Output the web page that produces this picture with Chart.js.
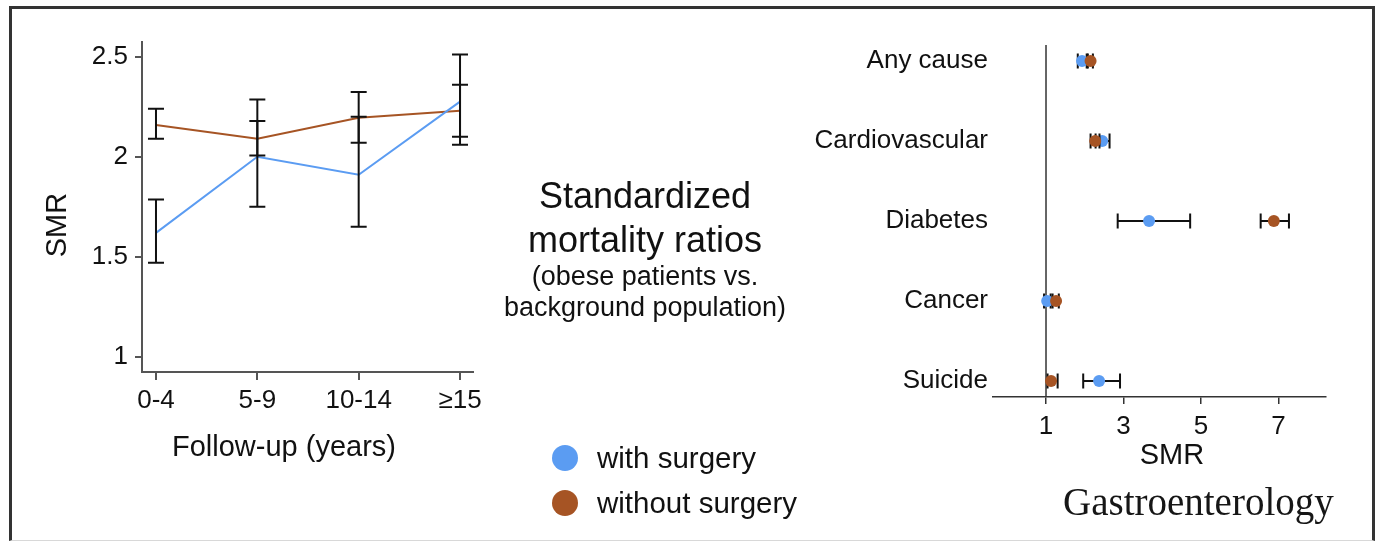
<!DOCTYPE html>
<html>
<head>
<meta charset="utf-8">
<script src="https://cdn.jsdelivr.net/npm/chart.js@4.4.1/dist/chart.umd.min.js"></script>
<style>
  html, body { margin:0; padding:0; background:#fff; }
  body { width:1375px; height:544px; position:relative; overflow:hidden; font-family:"Liberation Sans", Arial, sans-serif; color:#111; }
  .abs { position:absolute; white-space:nowrap; }
  #frame { position:absolute; left:9px; top:6px; width:1360px; height:531px; border:3px solid #333; border-bottom-color:#d8d8d8; border-bottom-width:1px; }
  .title1 { font-size:36px; line-height:40px; left:445px; width:400px; text-align:center; }
  .title2 { font-size:27px; line-height:32px; left:445px; width:400px; text-align:center; }
  .dot { position:absolute; width:26px; height:26px; border-radius:50%; }
  .leg { font-size:29.5px; line-height:34px; left:597px; }
  #journal { font-family:"Liberation Serif", "DejaVu Serif", serif; font-size:39px; line-height:38px; left:1063px; top:483px; color:#161616; }
</style>
</head>
<body>
<div id="frame"></div>
<canvas id="leftChart" class="abs" width="490" height="480" style="left:0;top:0"></canvas>
<canvas id="rightChart" class="abs" width="600" height="500" style="left:760px;top:0"></canvas>

<div class="abs title1" style="top:176px">Standardized</div>
<div class="abs title1" style="top:220px">mortality ratios</div>
<div class="abs title2" style="top:260px">(obese patients vs.</div>
<div class="abs title2" style="top:291px">background population)</div>

<div class="dot" style="left:552px;top:445px;background:#5b9cf2"></div>
<div class="abs leg" style="top:441px">with surgery</div>
<div class="dot" style="left:552px;top:490px;background:#a65424"></div>
<div class="abs leg" style="top:486px">without surgery</div>

<div id="journal" class="abs">Gastroenterology</div>

<script>
// ---------- Data: left panel (SMR by follow-up period) ----------
const periods = ['0-4', '5-9', '10-14', '≥15'];
const withSurgery      = [1.62, 2.00, 1.91, 2.275];
const withSurgeryLow   = [1.47, 1.75, 1.65, 2.06];
const withSurgeryHigh  = [1.786, 2.178, 2.20, 2.51];
const withoutSurgery     = [2.158, 2.09, 2.195, 2.23];
const withoutSurgeryLow  = [2.09, 2.006, 2.07, 2.10];
const withoutSurgeryHigh = [2.24, 2.286, 2.323, 2.36];
const leftYTicks = [1, 1.5, 2, 2.5];

// ---------- Data: right panel (SMR by cause of death) ----------
const causes = ['Any cause', 'Cardiovascular', 'Diabetes', 'Cancer', 'Suicide'];
const causeWith      = [1.93, 2.45, 3.66, 1.03, 2.37];
const causeWithLow   = [1.82, 2.28, 2.85, 0.95, 1.96];
const causeWithHigh  = [2.05, 2.64, 4.72, 1.12, 2.91];
const causeWithout     = [2.15, 2.27, 6.88, 1.26, 1.13];
const causeWithoutLow  = [2.08, 2.15, 6.54, 1.17, 1.04];
const causeWithoutHigh = [2.21, 2.38, 7.27, 1.33, 1.30];
const rightXTicks = [1, 3, 5, 7];
const referenceSMR = 1;

const BLUE = '#5b9cf2';
const BROWN = '#a65424';
const FONT = '"Liberation Sans", Arial, sans-serif';

const errorBars = {
  id: 'errorBars',
  drawOne(chart, ds, o) {
    if (!ds.errLow) return;
    const ctx = chart.ctx, xs = chart.scales.x, ys = chart.scales.y;
    ctx.save();
    ctx.strokeStyle = o.color; ctx.lineWidth = o.width; ctx.lineCap = 'butt';
    ds.data.forEach((p, i) => {
      ctx.beginPath();
      if (o.horizontal) {
        const y = ys.getPixelForValue(p.y);
        const a = xs.getPixelForValue(ds.errLow[i]), b = xs.getPixelForValue(ds.errHigh[i]);
        ctx.moveTo(a, y); ctx.lineTo(b, y);
        ctx.moveTo(a, y - o.cap); ctx.lineTo(a, y + o.cap);
        ctx.moveTo(b, y - o.cap); ctx.lineTo(b, y + o.cap);
      } else {
        const x = xs.getPixelForValue(p.x);
        const a = ys.getPixelForValue(ds.errLow[i]), b = ys.getPixelForValue(ds.errHigh[i]);
        ctx.moveTo(x, a); ctx.lineTo(x, b);
        ctx.moveTo(x - o.cap, a); ctx.lineTo(x + o.cap, a);
        ctx.moveTo(x - o.cap, b); ctx.lineTo(x + o.cap, b);
      }
      ctx.stroke();
    });
    ctx.restore();
  },
  beforeDatasetDraw(chart, args, o) {
    if (o.mode === 'before') this.drawOne(chart, chart.data.datasets[args.index], o);
  },
  afterDatasetsDraw(chart, args, o) {
    if (o.mode === 'after') chart.data.datasets.forEach(ds => this.drawOne(chart, ds, o));
  }
};

// axis titles drawn as canvas text
const caption = {
  id: 'caption',
  afterDraw(chart, args, o) {
    if (!o.items) return;
    const ctx = chart.ctx;
    o.items.forEach(it => {
      ctx.save();
      ctx.font = it.size + 'px ' + FONT;
      ctx.fillStyle = '#111';
      ctx.textAlign = 'center';
      ctx.textBaseline = 'middle';
      ctx.translate(it.x, it.y);
      if (it.rotate) ctx.rotate(-Math.PI / 2);
      ctx.fillText(it.text, 0, 0);
      ctx.restore();
    });
  }
};

const refLine = {
  id: 'refLine',
  beforeDatasetsDraw(chart, args, o) {
    if (o.value === undefined) return;
    const ctx = chart.ctx, xs = chart.scales.x, ca = chart.chartArea;
    const x = xs.getPixelForValue(o.value);
    ctx.save();
    ctx.strokeStyle = '#333'; ctx.lineWidth = 1.5;
    ctx.beginPath(); ctx.moveTo(x, ca.top); ctx.lineTo(x, ca.bottom); ctx.stroke();
    ctx.restore();
  }
};

// ---------- Left chart ----------
new Chart(document.getElementById('leftChart'), {
  type: 'line',
  data: {
    datasets: [
      { label: 'with surgery', data: withSurgery.map((v, i) => ({x: i, y: v})),
        errLow: withSurgeryLow, errHigh: withSurgeryHigh,
        borderColor: BLUE, borderWidth: 2, pointRadius: 0, tension: 0, fill: false },
      { label: 'without surgery', data: withoutSurgery.map((v, i) => ({x: i, y: v})),
        errLow: withoutSurgeryLow, errHigh: withoutSurgeryHigh,
        borderColor: BROWN, borderWidth: 2, pointRadius: 0, tension: 0, fill: false }
    ]
  },
  options: {
    responsive: false, animation: false, devicePixelRatio: 1, events: [],
    layout: { padding: { top: 42, right: 17, left: 0, bottom: 0 } },
    plugins: {
      legend: { display: false }, tooltip: { enabled: false },
      errorBars: { mode: 'after', color: '#111', width: 2, cap: 8 },
      caption: { items: [
        { text: 'Follow-up (years)', size: 29, x: 284, y: 448 },
        { text: 'SMR', size: 29, x: 58, y: 225, rotate: true }
      ] }
    },
    scales: {
      x: {
        type: 'linear', min: -0.138, max: 3.128,
        afterBuildTicks: s => { s.ticks = periods.map((p, i) => ({ value: i })); },
        afterFit: s => { s.height = 108; },
        ticks: { callback: v => periods[Math.round(v)], color: '#111', font: { family: FONT, size: 26 }, padding: 5, autoSkip: false, maxRotation: 0 },
        grid: { display: true, drawOnChartArea: false, drawTicks: true, tickLength: 8, color: '#555', lineWidth: 2 },
        border: { display: true, color: '#555', width: 2 }
      },
      y: {
        type: 'linear', min: 0.925, max: 2.573,
        afterBuildTicks: s => { s.ticks = leftYTicks.map(v => ({ value: v })); },
        afterFit: s => { s.width = 142; },
        ticks: { callback: v => String(v), color: '#111', font: { family: FONT, size: 26 }, padding: 7 },
        grid: { display: true, drawOnChartArea: false, drawTicks: true, tickLength: 7, color: '#555', lineWidth: 2 },
        border: { display: true, color: '#555', width: 2 }
      }
    }
  },
  plugins: [errorBars, caption]
});

// ---------- Right chart ----------
new Chart(document.getElementById('rightChart'), {
  type: 'scatter',
  data: {
    datasets: [
      { label: 'with surgery', data: causeWith.map((v, i) => ({x: v, y: i})),
        errLow: causeWithLow, errHigh: causeWithHigh, order: 2,
        backgroundColor: BLUE, borderWidth: 0, pointRadius: 6 },
      { label: 'without surgery', data: causeWithout.map((v, i) => ({x: v, y: i})),
        errLow: causeWithoutLow, errHigh: causeWithoutHigh, order: 1,
        backgroundColor: BROWN, borderWidth: 0, pointRadius: 6 }
    ]
  },
  options: {
    responsive: false, animation: false, devicePixelRatio: 1, events: [],
    layout: { padding: { top: 45, right: 34, left: 0, bottom: 0 } },
    plugins: {
      legend: { display: false }, tooltip: { enabled: false },
      errorBars: { mode: 'before', color: '#111', width: 2, cap: 7.5, horizontal: true },
      caption: { items: [ { text: 'SMR', size: 29, x: 412, y: 456 } ] },
      refLine: { value: referenceSMR }
    },
    scales: {
      x: {
        type: 'linear', min: -0.368, max: 8.226,
        afterBuildTicks: s => { s.ticks = rightXTicks.map(v => ({ value: v })); },
        afterFit: s => { s.height = 103; },
        ticks: { callback: v => String(v), color: '#111', font: { family: FONT, size: 26 }, padding: 7, autoSkip: false, maxRotation: 0 },
        grid: { display: true, drawOnChartArea: false, drawTicks: true, tickLength: 7, color: '#333', lineWidth: 1.5 },
        border: { display: true, color: '#333', width: 1.5 }
      },
      y: {
        type: 'linear', min: -0.2, max: 4.2, reverse: true,
        afterBuildTicks: s => { s.ticks = causes.map((c, i) => ({ value: i })); },
        afterFit: s => { s.width = 233; },
        ticks: { callback: v => causes[Math.round(v)], color: '#111', font: { family: FONT, size: 26 }, padding: 5, autoSkip: false },
        grid: { display: false, drawTicks: false },
        border: { display: false }
      }
    }
  },
  plugins: [refLine, errorBars, caption]
});
</script>
</body>
</html>
